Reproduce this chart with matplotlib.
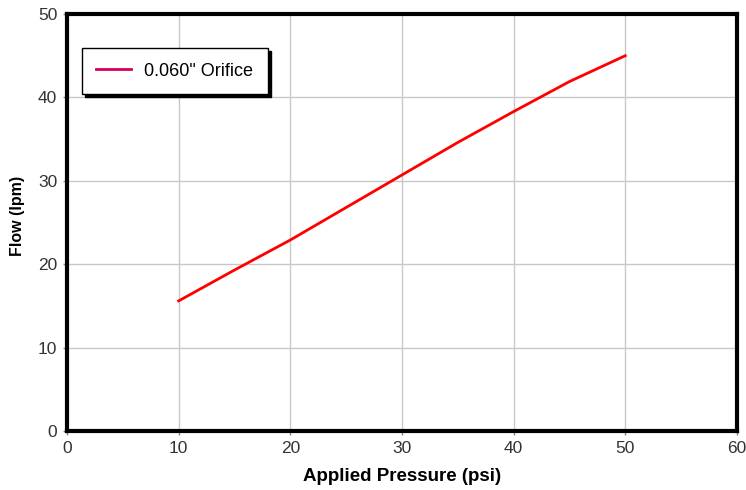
import matplotlib
matplotlib.use('Agg')
import matplotlib.pyplot as plt

# Données
pressure = [10, 15, 20, 25, 30, 35, 40, 45, 50]
flow = [15.6, 19.3, 22.9, 26.8, 30.7, 34.6, 38.3, 41.9, 45.0]
series_label = '0.060" Orifice'

plt.rcParams['font.family'] = ['Liberation Sans', 'DejaVu Sans']

fig = plt.figure(figsize=(7.46, 4.90), dpi=100)
ax = fig.add_axes([0.0898, 0.1204, 0.898, 0.851])

line, = ax.plot(pressure, flow, color='#ff0000', lw=2, label=series_label, zorder=3)

ax.set_xlim(0, 60)
ax.set_ylim(0, 50)
ax.set_xticks(range(0, 61, 10))
ax.set_yticks(range(0, 51, 10))
ax.grid(True, color='#c8c8c8', lw=1)
ax.set_axisbelow(True)

for sp in ax.spines.values():
    sp.set_linewidth(3)
    sp.set_color('black')

ax.tick_params(axis='both', length=3, width=1, color='#888888',
               labelsize=12.5, labelcolor='#333333', pad=4)

ax.set_xlabel('Applied Pressure (psi)', fontsize=13.5, fontweight='bold', labelpad=9)
ax.set_ylabel('Flow (lpm)', fontsize=11.5, fontweight='bold')
ax.yaxis.set_label_coords(-0.062, 0.515)

leg = ax.legend(loc='upper left', bbox_to_anchor=(0.0224, 0.918), borderaxespad=0,
                fancybox=False, framealpha=1, edgecolor='black', fontsize=13,
                handlelength=1.9, handletextpad=0.75, borderpad=0.8,
                shadow={'color': 'black', 'alpha': 1})
leg.get_frame().set_linewidth(1)
leg.legend_handles[0].set_color('#d6005a')

fig.savefig('out.png', dpi=100)
